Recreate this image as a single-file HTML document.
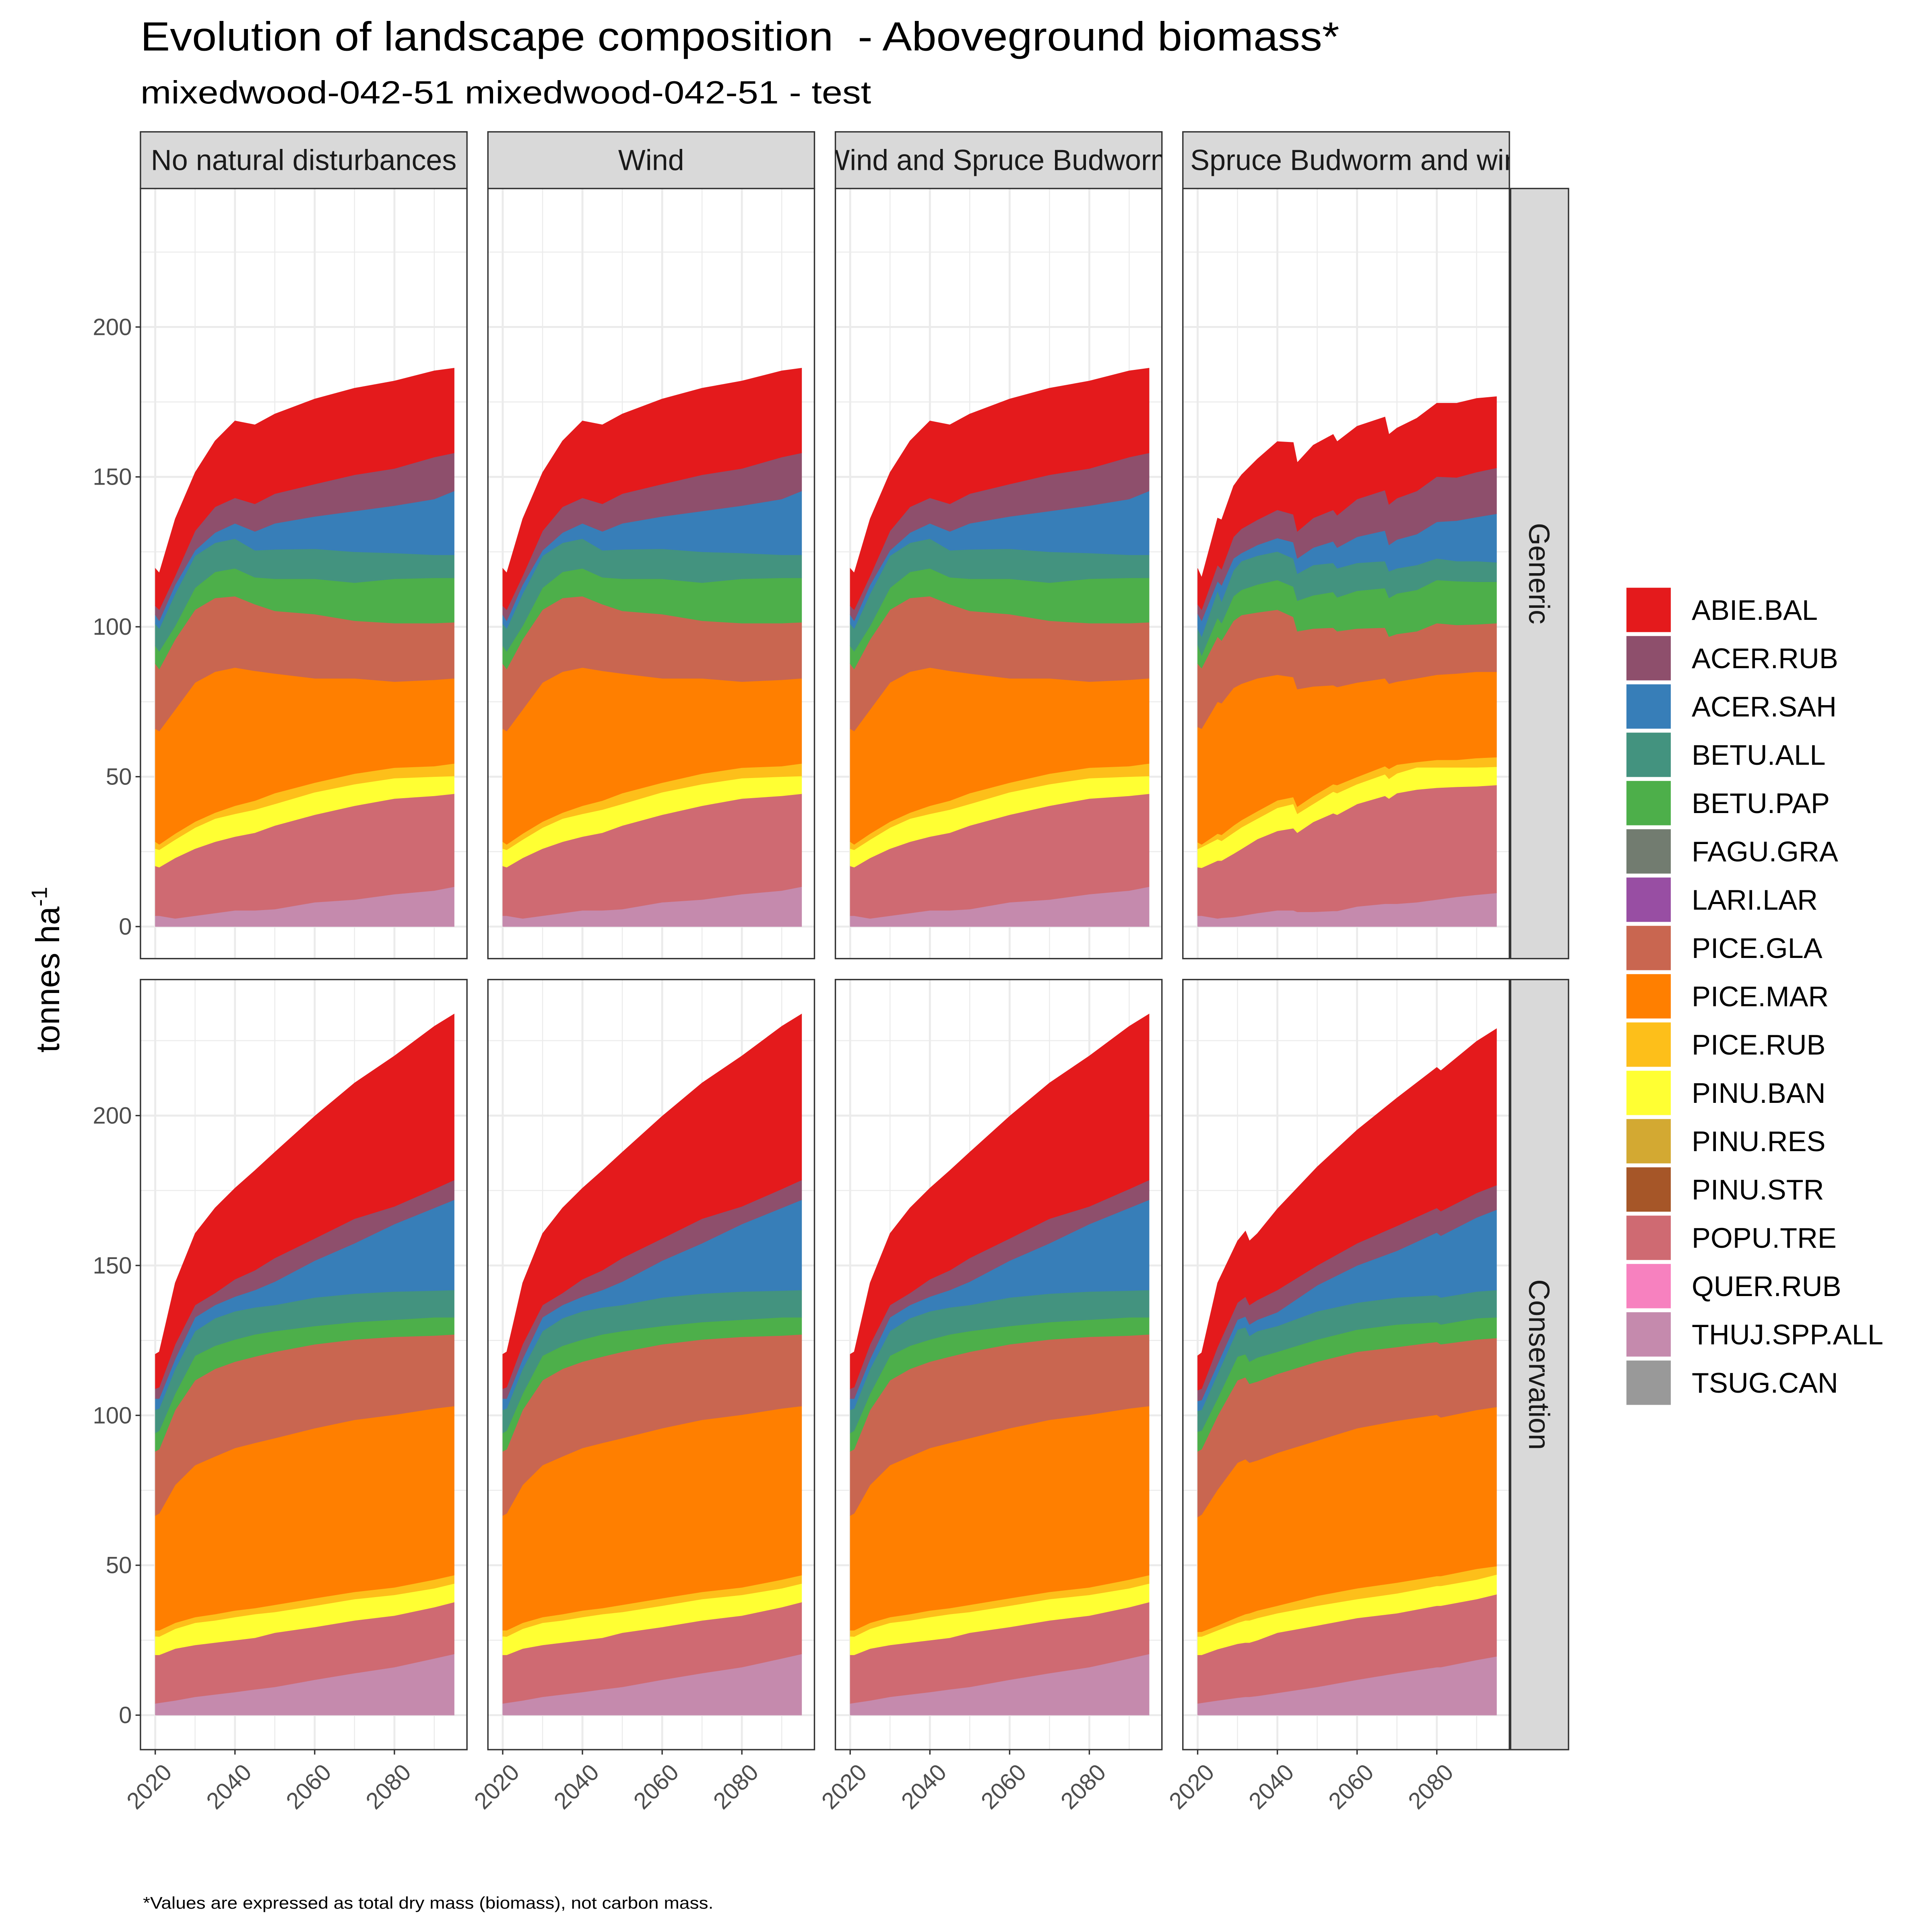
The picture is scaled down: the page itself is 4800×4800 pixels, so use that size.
<!DOCTYPE html>
<html><head><meta charset="utf-8"><title>Evolution of landscape composition</title>
<style>html,body{margin:0;padding:0;background:#fff}svg{display:block}text{font-family:"Liberation Sans",Arial,sans-serif}</style>
</head><body>
<svg id="chart" xmlns="http://www.w3.org/2000/svg" width="4800" height="4800" viewBox="0 0 1568 1568">
<rect x="0" y="0" width="1568" height="1568" fill="#fff"/>
<text x="114" y="41" font-size="33" fill="#000" xml:space="preserve" textLength="973" lengthAdjust="spacingAndGlyphs">Evolution of landscape composition  - Aboveground biomass*</text>
<text x="114" y="84" font-size="26" fill="#000" textLength="593" lengthAdjust="spacingAndGlyphs">mixedwood-042-51 mixedwood-042-51 - test</text>
<text transform="translate(48,787) rotate(-90)" text-anchor="middle" font-size="27" fill="#000">tonnes ha<tspan dy="-10" font-size="18">-1</tspan></text>
<text x="116" y="1549" font-size="13.5" fill="#000" textLength="463" lengthAdjust="spacingAndGlyphs">*Values are expressed as total dry mass (biomass), not carbon mass.</text>
<g id="panels"></g>
<g id="legend"></g>
</svg>
<script>
// ---- data: years ----
const yearsNoDist = [2020,2021,2025,2030,2035,2040,2045,2050,2060,2070,2080,2090,2095];
const yearsGenSbw = [2020,2021,2025,2026,2029,2031,2035,2040,2044,2045,2049,2054,2055,2060,2067,2068,2070,2075,2080,2085,2090,2095];
const yearsConSbw = [2020,2021,2025,2030,2032,2033,2035,2040,2050,2060,2070,2080,2081,2090,2095];
const speciesNames = ["ABIE.BAL","ACER.RUB","ACER.SAH","BETU.ALL","BETU.PAP","FAGU.GRA","LARI.LAR","PICE.GLA","PICE.MAR","PICE.RUB","PINU.BAN","PINU.RES","PINU.STR","POPU.TRE","QUER.RUB","THUJ.SPP.ALL","TSUG.CAN"];
const speciesColors = ["#E41A1C","#8E4F6C","#377EB8","#43937F","#4DAF4A","#727C70","#984EA3","#C96650","#FF7F00","#FDBF1A","#FFFF33","#D3A932","#A65628","#CF6A72","#F781BF","#C58AAD","#999999"];
const panelTitles = ["No natural disturbances","Wind","Wind and Spruce Budworm","Spruce Budworm and wind (all)"];
const rowTitles = ["Generic","Conservation"];
const yTicks = [0,50,100,150,200];
const xTicks = [2020,2040,2060,2080];

// Generic, no natural disturbance (tonnes/ha by species)
const gnThuj = [3.6,3.6,2.7,3.6,4.5,5.4,5.4,5.8,8.1,9,10.8,12,13.3];
const gnPopu = [16.6,16.2,20.2,22.4,23.8,24.6,25.9,27.9,29.2,31.3,31.9,31.6,31];
const gnPinuBan = [5.8,5.8,6.1,7,7.7,7.6,7.7,7.2,7.5,7.2,6.8,6.4,5.9];
const gnPiceRub = [2.3,1.8,2,2,2,2.7,3,3.6,3.2,3.5,3.5,3.5,4.2];
const gnPiceMar = [37.7,37.8,41.4,46.4,47,46.1,43.3,39.9,34.8,31.8,28.7,28.8,28.4];
const gnPiceGla = [21.7,20.7,23.4,24.3,24.6,23.8,22.2,20.9,21.4,19.2,19.5,18.9,18.7];
const gnBetuPap = [5.9,5.9,4.5,7.3,8.7,9.3,9,10.7,11.8,12.7,14.8,15.1,14.8];
const gnBetuAll = [7.4,7.6,10.7,10.7,9.7,9.9,9,9.8,10,10.3,8.6,7.7,7.7];
const gnAcerSah = [3,2.6,3,1.8,3.4,5.1,6.3,8.7,10.8,13.6,15.8,18.6,21.3];
const gnAcerRub = [3,3.7,3,6.5,8.6,8.5,9.2,9.9,10.8,12.1,12.4,14,12.7];
const gnAbieBal = [12.5,12.3,19,19.5,22,25.7,26.4,26.6,28.4,28.9,29.2,28.8,28.3];

// Generic, spruce budworm and wind
const gsThuj = [3.6,3.6,2.7,2.9,3.2,3.6,4.5,5.4,5.4,4.9,4.9,5.2,5.2,6.7,7.6,7.6,7.6,8.1,9,9.9,10.6,11.2];
const gsPopu = [16.2,16,19.3,19.1,21.1,22.3,24.7,26.5,27.4,26.4,30,32.6,32.1,34.2,36,35.1,36.9,37.6,37.3,36.7,36.2,36];
const gsPinuBan = [6.1,6.9,7.2,6.6,7,7.2,6.8,7.7,8.1,6.3,6,7.2,7.2,6.6,7.2,6.6,6.6,7.4,6.8,6.5,6.3,6.1];
const gsPiceRub = [2.2,0.9,1.8,2,2.4,2.4,2.5,2.5,2.3,2.4,2.7,2.5,2.7,2.4,2.7,3.3,2.9,1.8,2.5,2.5,3.1,3.2];
const gsPiceMar = [38.5,38.6,44,43.9,45.9,45.5,44.3,41.9,40,39.2,36.5,33,32.7,31.5,29.3,28.4,27.7,27.9,28.4,28.8,28.8,28.5];
const gsPiceGla = [21.1,20.2,21.7,20.9,22.4,22.9,22,21.7,20.1,19.3,19.3,19.2,18.6,18,16.9,15.7,15.9,15.7,17.2,16.2,15.8,16.2];
const gsBetuPap = [6.3,4.2,6.3,5.8,8.2,8.4,9.3,9.9,10.1,10.2,11.1,11.9,11.3,12.6,13.2,12.9,13.5,13.8,14.4,14.6,14.2,13.8];
const gsBetuAll = [5.4,6.3,9,7.2,8.6,9.6,9.6,9.5,9.4,9,10.1,9.7,9.7,9.3,9,8.9,8.4,8.3,7.2,6.7,6.9,6.5];
const gsAcerSah = [5,5.3,3.2,5.4,4,2.7,3.6,4.5,5.4,5.1,5.8,7.2,6.9,8.7,10.2,8.8,9.6,10.3,12.2,13.5,14.7,16.2];
const gsAcerRub = [3.1,3.7,5.4,5.4,7.2,8.1,8.4,9.4,9.3,9,9.9,10.5,10.8,12.6,13.5,13.5,13.8,14.4,15.1,14.4,15,15.3];
const gsAbieBal = [12,10.8,15.7,16.5,17,18,20.3,22.8,24,23,24.3,25.2,24.6,24.3,24.4,23.4,23.4,24.3,24.5,24.8,24.6,23.8];

// Conservation, no natural disturbance
const cnThuj = [3.9,4.1,4.9,6.1,6.9,7.7,8.6,9.4,11.8,14,16,18.9,20.4];
const cnPopu = [16.2,16,17.3,17.3,17.3,17.3,17.2,18.1,17.6,17.6,17.2,17.1,17.3];
const cnPinuBan = [6.2,6.1,6.6,7.4,7.4,7.7,7.9,6.9,7.1,7.1,6.9,6.3,6.2];
const cnPiceRub = [2,2.1,2,1.9,2.1,2.2,2,2.4,2.5,2.4,2.5,2.9,2.8];
const cnPiceMar = [38.3,39,46,50.7,52.6,54.2,55.1,55.6,56.7,57.4,57.6,57.1,56.4];
const cnPiceGla = [21.4,21.4,25,28.3,29.2,28.8,28.8,28.8,28,26.8,26,24.3,23.9];
const cnBetuPap = [6.1,6.2,5.4,8.2,7.7,7.4,7.4,6.9,6.1,5.8,5.7,6.1,5.7];
const cnBetuAll = [7.7,7.4,8.3,8.2,9.2,9.4,9,8.7,9.5,9.5,9.4,8.9,9.1];
const cnAcerSah = [3.8,3.3,3.3,4.6,4.4,4.9,5.8,7.8,12.3,16.8,22.5,27.6,30.1];
const cnAcerRub = [3.3,3.8,4.9,4.1,4,5.8,6.6,7.9,7.4,8.2,5.9,6.3,6.6];
const cnAbieBal = [11.5,11.8,20.5,23.9,28.4,30.4,33.3,35.3,40.8,45.3,50.2,54.3,55.4];

// Conservation, spruce budworm and wind
const csThuj = [3.9,4.1,4.9,5.8,6.1,6.1,6.4,7.4,9.4,11.8,14,16,16,18.4,19.6];
const csPopu = [16.2,16,17.1,18,18.1,18.1,18.6,20.1,20.5,20.6,20,20.5,20.5,20.3,20.7];
const csPinuBan = [6.1,6.1,6.3,7,7.4,7.4,7.4,6.5,6.6,6.3,6.6,6.6,6.6,6.5,6.6];
const csPiceRub = [1.6,1.6,1.6,1.9,2.1,2.4,2.5,2.5,3.3,3.6,3.6,3.3,3.3,3.6,2.8];
const csPiceMar = [38.3,39.1,45.3,51.5,51.7,50.2,50.1,51,51.8,53.4,54,53.8,52.9,53,53.1];
const csPiceGla = [21.9,21.8,24.6,27.5,27.3,26.3,26.3,26.3,26.3,25.5,24.6,24.3,24.4,23.5,23];
const csBetuPap = [6.6,6.2,5.8,7.9,7.7,7.4,8,7.4,7.4,7.4,7.5,6.6,6.6,7.1,6.9];
const csBetuAll = [6.9,6.9,8.2,9,9,8.6,8.8,8.6,9.4,9,9,9,9,8.9,9.1];
const csAcerSah = [3.3,3.3,3.3,3.3,3.6,3.8,3.8,4.6,8.7,12.4,15.6,20.9,20.6,24.7,26.8];
const csAcerRub = [3.6,3.8,5.7,5.7,6.6,6.5,6.6,7.4,6.6,7.4,8.3,8.2,8.2,8.2,8.2];
const csAbieBal = [11.5,12,21.4,20.6,21.9,21.4,22.2,27.1,32.9,37.8,42.7,46.9,46.9,50.6,52.2];

// ---- rendering ----
const NS = "http://www.w3.org/2000/svg";
const colLeft = [114,396,678,960];
const panelW = 265;
const rowTop = [153,795];
const panelH = 625;
const rowZeroY = [752,1392];
const pxPerUnit = 2.433;
const yearX0 = 126, pxPerYear = 3.235;

function mk(tag, attrs, parent){
  const e = document.createElementNS(NS, tag);
  for (const k in attrs) e.setAttribute(k, attrs[k]);
  parent.appendChild(e);
  return e;
}
function xScale(col, yr){ return colLeft[col] + (yearX0-114) + (yr-2020)*pxPerYear; }
function yScale(row, v){ return rowZeroY[row] - v*pxPerUnit; }

function bundle(years, thuj, popu, ban, rub, mar, gla, pap, all, sah, arub, abie){
  return {years, layers:[[15,thuj],[13,popu],[10,ban],[9,rub],[8,mar],[7,gla],[4,pap],[3,all],[2,sah],[1,arub],[0,abie]]};
}
const gnData = bundle(yearsNoDist, gnThuj, gnPopu, gnPinuBan, gnPiceRub, gnPiceMar, gnPiceGla, gnBetuPap, gnBetuAll, gnAcerSah, gnAcerRub, gnAbieBal);
const gsData = bundle(yearsGenSbw, gsThuj, gsPopu, gsPinuBan, gsPiceRub, gsPiceMar, gsPiceGla, gsBetuPap, gsBetuAll, gsAcerSah, gsAcerRub, gsAbieBal);
const cnData = bundle(yearsNoDist, cnThuj, cnPopu, cnPinuBan, cnPiceRub, cnPiceMar, cnPiceGla, cnBetuPap, cnBetuAll, cnAcerSah, cnAcerRub, cnAbieBal);
const csData = bundle(yearsConSbw, csThuj, csPopu, csPinuBan, csPiceRub, csPiceMar, csPiceGla, csBetuPap, csBetuAll, csAcerSah, csAcerRub, csAbieBal);
const panelData = [[gnData,gnData,gnData,gsData],[cnData,cnData,cnData,csData]];

const root = document.getElementById("panels");
const defs = mk("defs", {}, root);

for (let r=0;r<2;r++){
  for (let c=0;c<4;c++){
    const g = mk("g", {}, root);
    
    
    const L = colLeft[c], T = rowTop[r];
    mk("rect", {x:L, y:T, width:panelW, height:panelH, fill:"#fff"}, g);
    for (let v=25; v<=225; v+=50){
      const y = yScale(r,v); if (y<T) continue;
      mk("line", {x1:L, x2:L+panelW, y1:y, y2:y, stroke:"#EBEBEB", "stroke-width":0.8}, g);
    }
    for (let yr=2030; yr<=2090; yr+=20){
      const x = xScale(c,yr);
      mk("line", {x1:x, x2:x, y1:T, y2:T+panelH, stroke:"#EBEBEB", "stroke-width":0.8}, g);
    }
    for (const v of yTicks){
      const y = yScale(r,v);
      mk("line", {x1:L, x2:L+panelW, y1:y, y2:y, stroke:"#EBEBEB", "stroke-width":1.6}, g);
    }
    for (const yr of xTicks){
      const x = xScale(c,yr);
      mk("line", {x1:x, x2:x, y1:T, y2:T+panelH, stroke:"#EBEBEB", "stroke-width":1.6}, g);
    }
    const d = panelData[r][c];
    const base = d.years.map(()=>0);
    for (const [si, vals] of d.layers){
      const top = base.map((b,i)=>b+vals[i]);
      let pts = [];
      d.years.forEach((yr,i)=>pts.push(xScale(c,yr).toFixed(2)+","+yScale(r,top[i]).toFixed(2)));
      for (let i=d.years.length-1;i>=0;i--) pts.push(xScale(c,d.years[i]).toFixed(2)+","+yScale(r,base[i]).toFixed(2));
      const p = mk("polygon", {points:pts.join(" "), fill:speciesColors[si], stroke:speciesColors[si], "stroke-width":0.3}, g);
      
      
      for (let i=0;i<base.length;i++) base[i]=top[i];
    }
    mk("rect", {x:L, y:T, width:panelW, height:panelH, fill:"none", stroke:"#333", "stroke-width":1.1}, g);
    if (c===0){
      for (const v of yTicks){
        const y = yScale(r,v);
        mk("line", {x1:L-4, x2:L, y1:y, y2:y, stroke:"#333", "stroke-width":1.1}, g);
        const t = mk("text", {x:L-7, y:y+6.5, "text-anchor":"end", "font-size":19, fill:"#4D4D4D"}, g);
        t.textContent = v;
        
        
      }
    }
    if (r===1){
      for (const yr of xTicks){
        const x = xScale(c,yr), y = T+panelH;
        mk("line", {x1:x, x2:x, y1:y, y2:y+4, stroke:"#333", "stroke-width":1.1}, g);
        const t = mk("text", {transform:"translate("+(x+5)+","+(y+10)+") rotate(-45)", "text-anchor":"end", "dominant-baseline":"hanging", "font-size":19, fill:"#4D4D4D"}, g);
        t.textContent = yr;
        
        
      }
    }
  }
}
for (let c=0;c<4;c++){
  const L = colLeft[c];
  const cp = mk("clipPath", {id:"clip"+c}, defs);
  mk("rect", {x:L, y:107, width:panelW, height:46}, cp);
  const g = mk("g", {}, root);
  
  
  mk("rect", {x:L, y:107, width:panelW, height:46, fill:"#D9D9D9", stroke:"#333", "stroke-width":1.1}, g);
  const t = mk("text", {x:L+panelW/2, y:138, "text-anchor":"middle", "font-size":23.5, fill:"#1A1A1A", "clip-path":"url(#clip"+c+")"}, g);
  if (c===3){ t.setAttribute("x", L+6); t.setAttribute("text-anchor","start"); }
  t.textContent = panelTitles[c];
}
for (let r=0;r<2;r++){
  const g = mk("g", {}, root);
  
  
  const T = rowTop[r];
  mk("rect", {x:1226, y:T, width:47, height:panelH, fill:"#D9D9D9", stroke:"#333", "stroke-width":1.1}, g);
  const t = mk("text", {transform:"translate(1241,"+(T+panelH/2)+") rotate(90)", "text-anchor":"middle", "font-size":23.5, fill:"#1A1A1A"}, g);
  t.textContent = rowTitles[r];
}
const leg = document.getElementById("legend");
speciesNames.forEach((n,i)=>{
  const y = 477 + i*39.2;
  const g = mk("g", {}, leg);
  
  
  mk("rect", {x:1320, y:y, width:36, height:36, fill:speciesColors[i]}, g);
  const t = mk("text", {x:1373, y:y+26, "font-size":23, fill:"#000"}, g);
  t.textContent = n;
});
</script>
</body></html>
